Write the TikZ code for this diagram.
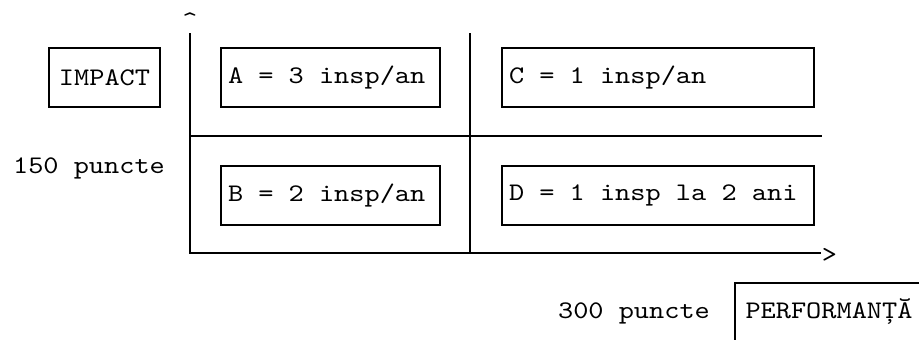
\documentclass[tikz,border=0pt]{standalone}
\usepackage{fontspec}
\setmainfont[FakeStretch=1.143]{lmmono10-regular.otf}
\usetikzlibrary{positioning}
\newcommand\fixspaces{\spaceskip=0pt\relax\xspaceskip=0pt\relax}

\begin{document}
\begin{tikzpicture}[x=1pt,y=-1pt,
  font=\fontsize{25.3}{30}\selectfont,
  line width=1.6pt,
  cell/.style={rectangle,draw,anchor=north west,outer sep=0pt,minimum height=59pt,inner xsep=7pt,
    align=left,execute at begin node={\fixspaces}},
  lbl/.style={anchor=base,inner sep=0pt}]
\useasboundingbox (0,0) rectangle (919,340);
\coordinate (ytop) at (190,33);
\coordinate (origin) at (190,253);
\coordinate (xend) at (821,253);
\coordinate (mtop) at (470,33);
\coordinate (mbot) at (470,253);
\coordinate (hleft) at (190,136);
\coordinate (hright) at (822,136);
\node[lbl] (ycaret) at (190,28) {\textasciicircum};
\node[lbl] (xtip) at (829.5,262) {>};
\draw (ytop) -- (origin) -- (xend);
\draw (mtop) -- (mbot);
\draw (hleft) -- (hright);
\node[rectangle,draw,outer sep=0pt,minimum width=111pt,minimum height=59pt] (impact) at (104.5,77.5) {IMPACT};
\node[cell,text width=205pt] (a) at (221,48) {A = 3 insp/an};
\node[cell,text width=205pt] (b) at (221,166) {B = 2 insp/an};
\node[cell,text width=298pt] (c) at (502,48) {C = 1 insp/an};
\node[cell,text width=298pt] (d) at (502,166) {D = 1 insp la 2 ani};
\node[lbl] (impactpts) at (89,173) {150 puncte};
\node[lbl] (perfpts) at (634,318) {300 puncte};
\node[lbl] (perf) at (829,318) {PERFORMANȚĂ};
\coordinate (pbot) at (735,341);
\coordinate (pcorner) at (735,283);
\coordinate (pright) at (920,283);
\draw (pbot) -- (pcorner) -- (pright);
\end{tikzpicture}
\end{document}
